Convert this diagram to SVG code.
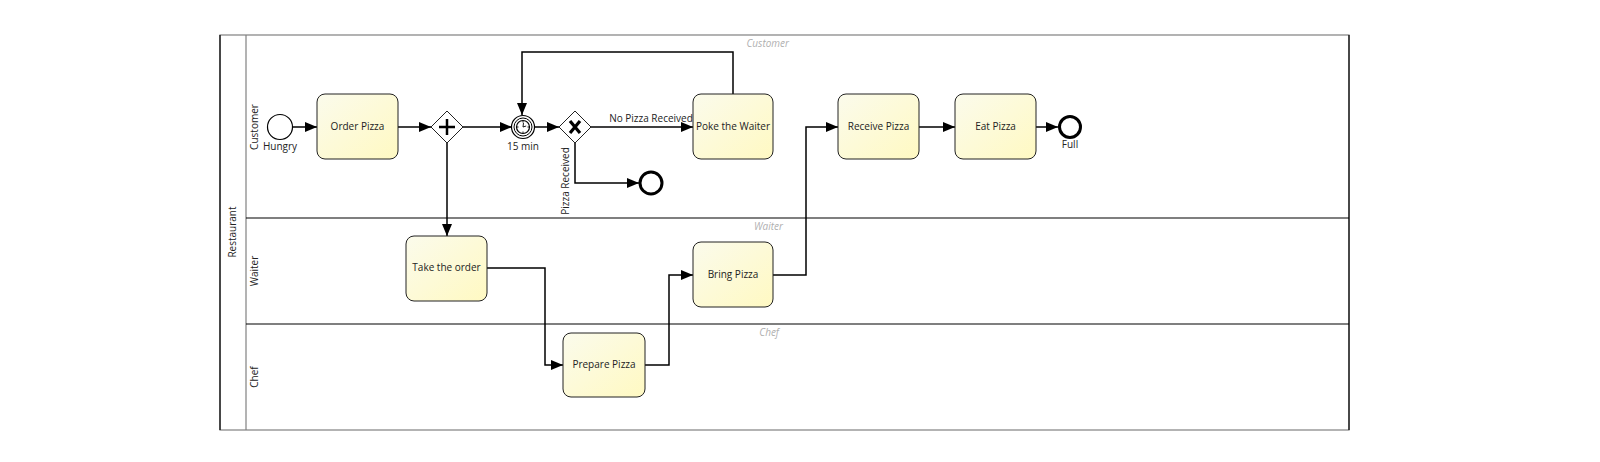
<svg xmlns="http://www.w3.org/2000/svg" width="1600" height="462" viewBox="0 0 1600 462">
<defs>
<linearGradient id="taskFill" x1="0" y1="0" x2="1" y2="1">
<stop offset="0" stop-color="#fbfbec"/>
<stop offset="1" stop-color="#fff9c2"/>
</linearGradient>
<marker id="arrow" viewBox="0 0 12 10" refX="12" refY="5" markerWidth="12" markerHeight="10" markerUnits="userSpaceOnUse" orient="auto">
<path d="M0,0 L12,5 L0,10 Z" fill="#000"/>
</marker>
</defs>
<style>
text{font-family:"Open Sans","Liberation Sans",sans-serif;font-size:10px;fill:#222}
.task{fill:url(#taskFill);stroke:#222;stroke-width:1}
.flow{fill:none;stroke:#000;stroke-width:1.5;marker-end:url(#arrow)}
.lane{fill:none;stroke:#000;stroke-width:1.2}
.lanetitle{font-style:italic;fill:#b0b0b0}
.ev{fill:#fff;stroke:#000;stroke-width:1.2}
.end{fill:#fff;stroke:#000;stroke-width:3}
.gw{fill:#fff;stroke:#222;stroke-width:1}
</style>
<rect width="1600" height="462" fill="#fff"/>
<g id="pool">
<rect x="220" y="35" width="1129" height="395" fill="#fff" stroke="#808080" stroke-width="1.2"/>
<line x1="220" y1="35" x2="220" y2="430" stroke="#000" stroke-width="1.2"/>
<line x1="1349" y1="35" x2="1349" y2="430" stroke="#000" stroke-width="1.2"/>
<line x1="246" y1="35" x2="246" y2="430" stroke="#808080" stroke-width="1.2"/>
<line class="lane" x1="246" y1="218" x2="1349" y2="218"/>
<line class="lane" x1="246" y1="324" x2="1349" y2="324"/>
<text transform="translate(233,232) rotate(-90)" text-anchor="middle" dominant-baseline="middle">Restaurant</text>
<text transform="translate(255,127) rotate(-90)" text-anchor="middle" dominant-baseline="middle">Customer</text>
<text transform="translate(255,271) rotate(-90)" text-anchor="middle" dominant-baseline="middle">Waiter</text>
<text transform="translate(255,377) rotate(-90)" text-anchor="middle" dominant-baseline="middle">Chef</text>
<text class="lanetitle" x="789" y="47" text-anchor="end">Customer</text>
<text class="lanetitle" x="783" y="230" text-anchor="end">Waiter</text>
<text class="lanetitle" x="779" y="336" text-anchor="end">Chef</text>
</g>
<g id="connectors">
<line class="flow" x1="293" y1="127" x2="317" y2="127"/>
<line class="flow" x1="398" y1="127" x2="431" y2="127"/>
<line class="flow" x1="463" y1="127" x2="512" y2="127"/>
<line class="flow" x1="447" y1="143" x2="447" y2="236"/>
<line class="flow" x1="535" y1="127" x2="559" y2="127"/>
<line class="flow" x1="591" y1="127" x2="693" y2="127"/>
<polyline class="flow" points="575,143 575,183 639,183"/>
<polyline class="flow" points="733,94 733,52 522,52 522,115"/>
<polyline class="flow" points="487,268 545,268 545,365 563,365"/>
<polyline class="flow" points="645,365 669,365 669,275 693,275"/>
<polyline class="flow" points="773,275 806,275 806,127 838,127"/>
<line class="flow" x1="919" y1="127" x2="955" y2="127"/>
<line class="flow" x1="1036" y1="127" x2="1058" y2="127"/>
<text x="651" y="122" text-anchor="middle">No Pizza Received</text>
<text transform="translate(569,181) rotate(-90)" text-anchor="middle">Pizza Received</text>
</g>
<g id="start-hungry">
<circle class="ev" cx="280" cy="127" r="12.5"/>
<text x="280" y="150" text-anchor="middle">Hungry</text>
</g>
<g id="order-pizza">
<rect class="task" x="317" y="94" width="81" height="65" rx="8"/>
<text x="357.5" y="130" text-anchor="middle">Order Pizza</text>
</g>
<g id="parallel-gateway">
<path class="gw" d="M447,111 L463,127 L447,143 L431,127 Z"/>
<path d="M447,119 V135 M439,127 H455" stroke="#000" stroke-width="2.5"/>
</g>
<g id="timer-15min">
<circle class="ev" cx="523" cy="127" r="11.5"/>
<circle cx="523" cy="127" r="9" fill="#fff" stroke="#000" stroke-width="1"/>
<circle cx="523" cy="127" r="6.5" fill="#fff" stroke="#000" stroke-width="1.2"/>
<path d="M523,121 V122.5 M523,131.5 V133 M517,127 H518.5 M527.5,127 H529 M523,127 L523.5,122.8 M523,127 L526.2,126" stroke="#000" stroke-width="0.9" fill="none"/>
<text x="523" y="150" text-anchor="middle">15 min</text>
</g>
<g id="xor-gateway">
<path class="gw" d="M575,111 L591,127 L575,143 L559,127 Z"/>
<path d="M570,121 L580,133 M580,121 L570,133" stroke="#000" stroke-width="3.2"/>
</g>
<g id="end-pizza-received">
<circle class="end" cx="651" cy="183" r="11"/>
</g>
<g id="poke-waiter">
<rect class="task" x="693" y="94" width="80" height="65" rx="8"/>
<text x="733" y="130" text-anchor="middle">Poke the Waiter</text>
</g>
<g id="receive-pizza">
<rect class="task" x="838" y="94" width="81" height="65" rx="8"/>
<text x="878.5" y="130" text-anchor="middle">Receive Pizza</text>
</g>
<g id="eat-pizza">
<rect class="task" x="955" y="94" width="81" height="65" rx="8"/>
<text x="995.5" y="130" text-anchor="middle">Eat Pizza</text>
</g>
<g id="end-full">
<circle class="end" cx="1070" cy="127" r="10.5"/>
<text x="1070" y="148" text-anchor="middle">Full</text>
</g>
<g id="take-order">
<rect class="task" x="406" y="236" width="81" height="65" rx="8"/>
<text x="446.5" y="271" text-anchor="middle">Take the order</text>
</g>
<g id="prepare-pizza">
<rect class="task" x="563" y="333" width="82" height="64" rx="8"/>
<text x="604" y="368" text-anchor="middle">Prepare Pizza</text>
</g>
<g id="bring-pizza">
<rect class="task" x="693" y="242" width="80" height="65" rx="8"/>
<text x="733" y="278" text-anchor="middle">Bring Pizza</text>
</g>
</svg>
